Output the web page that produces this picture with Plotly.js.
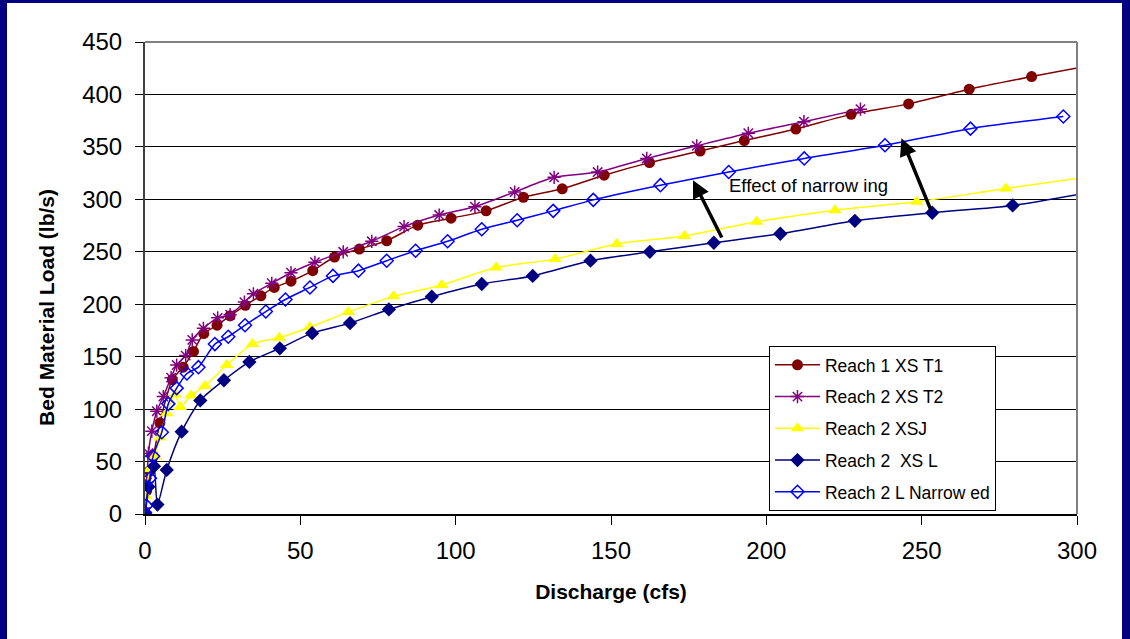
<!DOCTYPE html>
<html>
<head>
<meta charset="utf-8">
<script src="https://cdn.plot.ly/plotly-3.0.1.min.js"></script>
<style>
  html, body { margin: 0; padding: 0; background: #000080; width: 1130px; height: 639px; overflow: hidden; }
  #chart { position: absolute; left: 7px; top: 3px; width: 1115px; height: 636px; background: #ffffff; }
</style>
</head>
<body>
<div id="chart"></div>
<script>
// ---- Data ----
const seriesNames = ["Reach 1 XS T1", "Reach 2 XS T2", "Reach 2 XSJ", "Reach 2\u00a0 XS L", "Reach 2 L Narrow ed"];

const t1X = [0, 0.5, 1.5, 2.7, 4.8, 8.8, 12.3, 15.6, 18.9, 23.2, 27.4, 32.3, 37.3, 41.6, 47, 54, 61, 69, 77.8, 87.8, 98.5, 109.8, 121.8, 134.3, 147.8, 162.4, 178.7, 192.9, 209.5, 227.3, 245.8, 265.3, 285.4, 303];
const t1Y = [2, 22, 41, 55, 87, 128, 140, 155, 172, 180, 189, 199, 208, 216, 222, 232, 245, 252.6, 260.5, 275.4, 282, 289, 302, 310, 323, 335, 346, 356, 367, 381, 391, 405, 417, 427];

const t2X = [0, 0.6, 1.1, 2.2, 3.8, 5.9, 8.4, 10.2, 13.1, 15.2, 18.8, 23.4, 27.4, 32, 34.9, 40.8, 47, 54.7, 63.8, 73, 83.4, 94.7, 106.2, 119, 131.7, 145.7, 161.5, 177.6, 194.2, 212.1, 230.3];
const t2Y = [2, 30, 58, 79, 98, 112, 130, 142, 151, 166, 177, 187, 190, 202, 210, 220, 230, 240, 250, 260, 274, 285, 293, 307, 321, 326, 339, 351, 363, 374, 386];

const xsjX = [0, 0.3, 1.6, 3.2, 4.8, 7.0, 9.7, 11.3, 14.8, 19.3, 26.3, 34.6, 43.2, 53, 65.4, 80, 95.5, 113, 132, 151.8, 173.6, 196.9, 222.1, 248.4, 277.1, 303];
const xsjY = [0, 17, 43, 55, 73, 96, 114, 102, 113, 122, 142, 162, 168, 178, 192.5, 207.5, 218.4, 235, 243, 257.4, 265, 278.6, 289.7, 297.6, 310.4, 321];

const xslX = [0, 1.1, 2.9, 4.0, 7.0, 11.8, 17.8, 25.4, 33.6, 43.4, 53.8, 66, 78.5, 92.3, 108.4, 124.8, 143.4, 162.5, 183.1, 204.5, 228.5, 253.4, 279.3, 303];
const xslY = [1, 26, 45.5, 9, 42, 78.5, 108.3, 127.5, 145, 158, 172.4, 182, 195, 207.2, 219.3, 227, 241.5, 250, 258.6, 267.2, 279.5, 287.2, 294.2, 306];

const narX = [0, 0.4, 1.6, 2.6, 5.4, 7.5, 10.2, 13.5, 17.2, 22.5, 26.8, 32.2, 38.9, 45.2, 53.1, 60.5, 68.7, 77.8, 87.1, 97.4, 108.4, 119.8, 131.4, 144.3, 165.9, 187.9, 212.2, 238.2, 265.7, 295.6];
const narY = [1, 8, 34, 55, 78, 105, 120, 134, 140, 162, 169, 180, 193, 204.5, 216, 227, 232, 241.5, 251, 260, 271.5, 280, 289, 299.5, 313.5, 326, 339, 351.6, 367.4, 379];

const xTicks = [0, 50, 100, 150, 200, 250, 300];
const yTicks = [0, 50, 100, 150, 200, 250, 300, 350, 400, 450];

const annotationText = "Effect of narrow ing";
const xTitle = "Discharge (cfs)";
const yTitle = "Bed Material Load (lb/s)";

// ---- Traces ----
const lineShape = {shape: 'spline', smoothing: 0.7, width: 1.5};
function mk(name, x, y, color, marker, group) {
  return {
    type: 'scatter', mode: 'lines+markers', name: name, x: x, y: y,
    legendgroup: group,
    line: Object.assign({color: color}, lineShape),
    marker: marker
  };
}
const traces = [
  mk(seriesNames[0], t1X, t1Y, '#800000', {symbol: 'circle', size: 11, color: '#800000'}, 'g1'),
  mk(seriesNames[1], t2X, t2Y, '#800080', {symbol: 'asterisk-open', size: 11, color: '#800080', line: {color: '#800080', width: 1.5}}, 'g2'),
  mk(seriesNames[2], xsjX, xsjY, '#FFFF00', {symbol: 'triangle-up', size: 12, color: '#FFFF00'}, 'g3'),
  mk(seriesNames[3], xslX, xslY, '#000080', {symbol: 'diamond', size: 11, color: '#000080'}, 'g4'),
  mk(seriesNames[4], narX, narY, '#0000FF', {symbol: 'diamond-open', size: 10, color: '#0000FF', line: {color: '#0000FF', width: 1.5}}, 'g5')
];

const fontFam = 'Arial, "Liberation Sans", sans-serif';

const layout = {
  width: 1115, height: 636,
  margin: {l: 138, r: 45, t: 39, b: 125},
  paper_bgcolor: '#ffffff', plot_bgcolor: '#ffffff',
  font: {family: fontFam, color: '#000000'},
  showlegend: true,
  legend: {
    x: 0.6695, y: 0.356, xanchor: 'left', yanchor: 'top',
    bgcolor: '#ffffff', bordercolor: '#000000', borderwidth: 1,
    font: {family: fontFam, size: 17.5, color: '#000000'},
    traceorder: 'grouped', tracegroupgap: 6, itemwidth: 45
  },
  xaxis: {
    range: [0, 300], tickvals: xTicks, ticktext: xTicks.map(String),
    showgrid: false, zeroline: false,
    showline: true, linecolor: '#000000', linewidth: 1.5,
    ticks: 'outside', ticklen: 9, tickcolor: '#000000', tickwidth: 1,
    ticklabelstandoff: 6,
    tickfont: {family: fontFam, size: 24, color: '#000000'},
    title: {text: '<b>' + xTitle + '</b>', font: {family: fontFam, size: 21, color: '#000000'}, standoff: 21}
  },
  yaxis: {
    range: [0, 450], tickvals: yTicks, ticktext: yTicks.map(String),
    showgrid: true, gridcolor: '#000000', gridwidth: 1, zeroline: false,
    showline: true, linecolor: '#404040', linewidth: 2,
    ticks: 'outside', ticklen: 8, tickcolor: '#000000', tickwidth: 1,
    ticklabelstandoff: 8,
    tickfont: {family: fontFam, size: 24, color: '#000000'}
  },
  shapes: [
    {type: 'line', xref: 'paper', yref: 'paper', x0: 0, x1: 1, y0: 1, y1: 1, line: {color: '#808080', width: 2}, layer: 'above'},
    {type: 'line', xref: 'paper', yref: 'paper', x0: 1, x1: 1, y0: 0, y1: 1, line: {color: '#808080', width: 2}, layer: 'above'}
  ],
  annotations: [
    {x: 176.4, y: 318.3, ax: 185.9, ay: 262.1, xref: 'x', yref: 'y', axref: 'x', ayref: 'y',
     showarrow: true, arrowhead: 2, arrowsize: 1, arrowwidth: 3.5, arrowcolor: '#000000', text: ''},
    {x: 243.5, y: 358.2, ax: 253.2, ay: 288.1, xref: 'x', yref: 'y', axref: 'x', ayref: 'y',
     showarrow: true, arrowhead: 2, arrowsize: 1, arrowwidth: 3.5, arrowcolor: '#000000', text: ''},
    {x: 187.3, y: 313.5, xref: 'x', yref: 'y', xanchor: 'left', yanchor: 'middle', showarrow: false,
     text: annotationText, font: {family: fontFam, size: 18.5, color: '#000000'}},
    {x: -0.105, y: 0.437, xref: 'paper', yref: 'paper', xanchor: 'center', yanchor: 'middle', showarrow: false,
     textangle: -90, text: '<b>' + yTitle + '</b>', font: {family: fontFam, size: 21, color: '#000000'}}
  ]
};

Plotly.newPlot('chart', traces, layout, {displayModeBar: false, staticPlot: true});
</script>
</body>
</html>
